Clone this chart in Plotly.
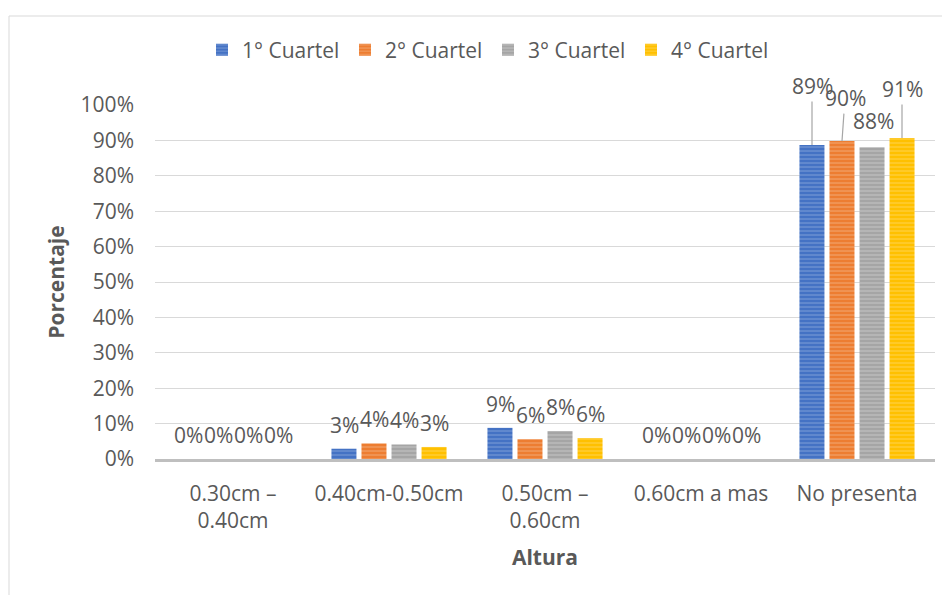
import plotly.graph_objects as go

categories = ["0.30cm –<br>0.40cm", "0.40cm-0.50cm", "0.50cm –<br>0.60cm", "0.60cm a mas", "No presenta"]
series_names = ["1° Cuartel", "2° Cuartel", "3° Cuartel", "4° Cuartel"]
q1 = [0, 2.9, 8.8, 0, 88.7]
q2 = [0, 4.4, 5.6, 0, 89.8]
q3 = [0, 4.1, 7.9, 0, 88.1]
q4 = [0, 3.4, 5.9, 0, 90.7]
y_ticks = [0, 10, 20, 30, 40, 50, 60, 70, 80, 90, 100]

series = [q1, q2, q3, q4]
colors = ["#4472C4", "#ED7D31", "#A5A5A5", "#FFC000"]
stripe = ["#A3BAE3", "#F7C4A0", "#DADADA", "#FFE083"]

FONT = "Open Sans"
TXT = "#595959"
FS = 21

fig = go.Figure()
for name, vals, c, s in zip(series_names, series, colors, stripe):
    fig.add_trace(go.Bar(
        x=categories, y=vals, name=name,
        marker=dict(color=c, line=dict(width=0),
                    pattern=dict(shape="-", fgcolor=s, bgcolor=c, size=4, solidity=0.3)),
        hoverinfo="skip",
    ))

# figure is offset by the page's 8px body margin, so work in figure pixels
W = 942
H = 587
L, R, T, B = 147, 15, 97, 136
special = {  # label offsets for the last category (leader lines)
    0: (0, -59, True),
    1: (3, -43, True),
    2: (1, -26, False),
    3: (0, -49, True),
}
annotations = []
for si, vals in enumerate(series):
    xs = (si - 1.5) * 30
    for ci, v in enumerate(vals):
        label = f"{v:.0f}%"
        if ci == len(categories) - 1:
            dx, dy, arrow = special[si]
            if arrow:
                annotations.append(dict(
                    x=categories[ci], y=v, xref="x", yref="y", text=label,
                    showarrow=True, arrowhead=0, arrowwidth=1.2, arrowcolor="#A6A6A6",
                    ax=dx, ay=dy, xshift=xs, standoff=0,
                    font=dict(family=FONT, size=FS, color=TXT)))
            else:
                annotations.append(dict(
                    x=categories[ci], y=v, xref="x", yref="y", text=label,
                    showarrow=False, xshift=xs + dx, yshift=-dy, yanchor="middle",
                    font=dict(family=FONT, size=FS, color=TXT)))
        else:
            annotations.append(dict(
                x=categories[ci], y=v, xref="x", yref="y", text=label,
                showarrow=False, xshift=xs, yshift=24, yanchor="middle",
                font=dict(family=FONT, size=FS, color=TXT)))

pw = W - L - R
ph = H - T - B
def px_x(p):
    return (p - L) / pw
def px_y(p):
    return (H - B - p) / ph

fig.update_layout(
    width=W, height=H,
    margin=dict(l=L, r=R, t=T, b=B),
    paper_bgcolor="white", plot_bgcolor="white",
    font=dict(family=FONT, size=FS, color=TXT),
    barmode="group", bargap=0.23, bargroupgap=0.167,
    showlegend=True,
    legend=dict(orientation="h", x=px_x(194), xanchor="left", y=px_y(42), yanchor="middle",
                font=dict(family=FONT, size=FS, color=TXT),
                entrywidth=98, entrywidthmode="pixels", itemwidth=30,
                bgcolor="rgba(0,0,0,0)"),
    annotations=annotations,
    shapes=[dict(type="rect", xref="paper", yref="paper",
                 x0=px_x(1), x1=px_x(940), y0=px_y(8), y1=px_y(600),
                 line=dict(color="#D9D9D9", width=1), fillcolor="rgba(0,0,0,0)", layer="below")],
    xaxis=dict(
        title=dict(text="<b>Altura</b>", font=dict(family=FONT, size=FS, color=TXT), standoff=18),
        showgrid=False, showline=True, linecolor="#BFBFBF", linewidth=2.5,
        ticks="", ticklabelstandoff=14, automargin=False,
        tickfont=dict(family=FONT, size=FS, color=TXT),
    ),
    yaxis=dict(
        title=dict(text="<b>Porcentaje</b>", font=dict(family=FONT, size=FS, color=TXT), standoff=10),
        range=[0, 100], tickvals=y_ticks, ticktext=[f"{t}%" for t in y_ticks],
        showgrid=True, gridcolor="#D9D9D9", gridwidth=1,
        zeroline=False, showline=False, ticks="", ticklabelstandoff=20, automargin=False,
        tickfont=dict(family=FONT, size=FS, color=TXT),
    ),
)

fig.write_html("out.html")
